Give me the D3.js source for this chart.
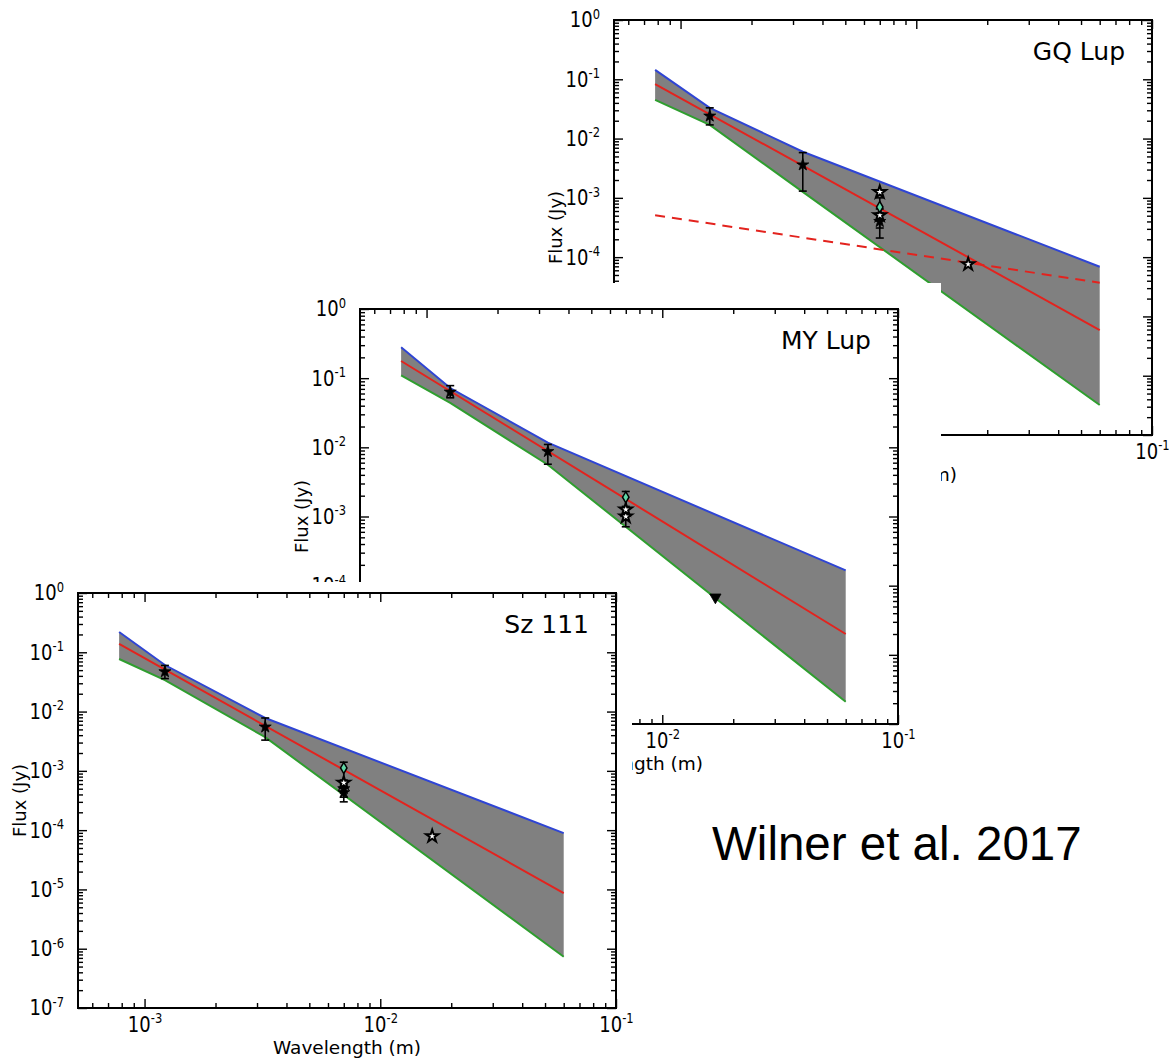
<!DOCTYPE html>
<html><head><meta charset="utf-8">
<script src="https://cdn.jsdelivr.net/npm/d3@7"></script>
<style>
body{margin:0;background:#fff;}
svg{display:block;font-family:"DejaVu Sans",sans-serif;}
</style>
</head><body>
<svg id="chart" width="1169" height="1060"></svg>
<script>
// ---------------- data ----------------
const lineWavelengths = [7.8e-4, 0.06];                   // straight model line ends (m)
const xTickExponents = [-3, -2, -1];
const xLabel = "Wavelength (m)";
const yLabel = "Flux (Jy)";
const creditText = "Wilner et al. 2017";

// GQ Lup
const gqTitle = "GQ Lup";
const gqWavelengths = [7.8e-4, 1.33e-3, 3.3e-3, 0.06];
const gqUpper = [0.144, 0.033, 0.006, 6.9e-5];
const gqLower = [0.045, 0.017, 1.26e-3, 3.2e-7];
const gqModel = [0.083, 5.9e-6];
const gqFreeFree = [5.1e-4, 3.7e-5];
const gqYExponents = [0, -1, -2, -3, -4, -5, -6, -7];
const gqPoints = [
  {w: 1.33e-3, f: 0.024, lo: 0.017, hi: 0.033, m: "star"},
  {w: 3.3e-3, f: 0.0036, lo: 0.0013, hi: 0.0058, m: "star"},
  {w: 7e-3, f: 4.0e-4, lo: 2.1e-4, hi: 5.5e-4, m: "star"},
  {w: 7e-3, f: 5.1e-4, lo: 3.1e-4, hi: 6.5e-4, m: "open"},
  {w: 7e-3, f: 7.0e-4, lo: 5.5e-4, hi: 1.0e-3, m: "diamond"},
  {w: 7e-3, f: 1.25e-3, lo: null, hi: null, m: "open"},
  {w: 0.0166, f: 7.6e-5, lo: null, hi: null, m: "open"}
];

// MY Lup
const myTitle = "MY Lup";
const myWavelengths = [7.8e-4, 1.26e-3, 3.27e-3, 0.06];
const myUpper = [0.28, 0.072, 0.0117, 1.66e-4];
const myLower = [0.11, 0.044, 0.0056, 2.1e-6];
const myModel = [0.177, 2.0e-5];
const myYExponents = [0, -1, -2, -3, -4, -5, -6];
const myPoints = [
  {w: 1.26e-3, f: 0.063, lo: 0.052, hi: 0.078, m: "star"},
  {w: 3.27e-3, f: 0.0087, lo: 0.0057, hi: 0.011, m: "star"},
  {w: 7e-3, f: 1.0e-3, lo: 7.1e-4, hi: 1.3e-3, m: "open"},
  {w: 7e-3, f: 1.26e-3, lo: null, hi: null, m: "open"},
  {w: 7e-3, f: 1.9e-3, lo: 1.4e-3, hi: 2.3e-3, m: "diamond"},
  {w: 0.0168, f: 6.8e-5, lo: null, hi: null, m: "limit"}
];

// Sz 111
const szTitle = "Sz 111";
const szWavelengths = [7.8e-4, 1.22e-3, 3.25e-3, 0.06];
const szUpper = [0.22, 0.061, 0.0078, 8.9e-5];
const szLower = [0.077, 0.034, 0.0037, 7.3e-7];
const szModel = [0.138, 8.7e-6];
const szYExponents = [0, -1, -2, -3, -4, -5, -6, -7];
const szPoints = [
  {w: 1.22e-3, f: 0.047, lo: 0.036, hi: 0.06, m: "star"},
  {w: 3.25e-3, f: 0.0055, lo: 0.0033, hi: 0.0078, m: "star"},
  {w: 7e-3, f: 4.3e-4, lo: 3.0e-4, hi: 6.0e-4, m: "star"},
  {w: 7e-3, f: 5.0e-4, lo: 3.6e-4, hi: 6.5e-4, m: "star"},
  {w: 7e-3, f: 6.3e-4, lo: null, hi: null, m: "open"},
  {w: 7e-3, f: 1.12e-3, lo: 7.0e-4, hi: 1.4e-3, m: "diamond"},
  {w: 0.0166, f: 7.9e-5, lo: null, hi: null, m: "open"}
];

// ---------------- drawing ----------------
const svg = d3.select("#chart");
const W = 538, H = 415;
const xDomain = [5.22e-4, 0.1];
const C = {blue: "#2f45d4", green: "#2f9e2f", red: "#e3231e", gray: "#808080", mint: "#5fd6a6"};

function minorTicks(lo, hi) {
  const out = [];
  for (let e = Math.floor(Math.log10(lo)); e <= Math.ceil(Math.log10(hi)); e++) {
    for (let k = 2; k <= 9; k++) {
      const v = k * Math.pow(10, e);
      if (v > lo * 1.0001 && v < hi * 0.9999) out.push(v);
    }
  }
  return out;
}

function pow10Labels(sel) {
  sel.selectAll(".tick text").each(function(d) {
    const e = Math.round(Math.log10(d));
    const t = d3.select(this).attr("transform", "scale(1,1.2)");
    t.text(null);
    t.append("tspan").text("10");
    t.append("tspan").attr("dy", "-0.62em").attr("font-size", "0.64em").text(e === 0 ? "0" : "-" + Math.abs(e));
  });
}

function drawPanel(cfg) {
  const g = svg.append("g").attr("transform", `translate(${cfg.left},${cfg.top})`);
  const x = d3.scaleLog().domain(xDomain).range([0, W]);
  const y = d3.scaleLog().domain([cfg.yMin, 1]).range([H, 0]);

  const nodes = cfg.wavelengths.map((w, i) => ({w, up: cfg.upper[i], lo: cfg.lower[i]}));
  g.append("path").datum(nodes)
    .attr("d", d3.area().x(d => x(d.w)).y0(d => y(d.lo)).y1(d => y(d.up)))
    .attr("fill", C.gray);
  g.append("path").datum(nodes)
    .attr("d", d3.line().x(d => x(d.w)).y(d => y(d.up)))
    .attr("fill", "none").attr("stroke", C.blue).attr("stroke-width", 2);
  g.append("path").datum(nodes)
    .attr("d", d3.line().x(d => x(d.w)).y(d => y(d.lo)))
    .attr("fill", "none").attr("stroke", C.green).attr("stroke-width", 2);
  const line = d3.line().x(d => x(d[0])).y(d => y(d[1]));
  g.append("path").datum(lineWavelengths.map((w, i) => [w, cfg.model[i]]))
    .attr("d", line).attr("fill", "none").attr("stroke", C.red).attr("stroke-width", 2);
  if (cfg.dashed) {
    g.append("path").datum(lineWavelengths.map((w, i) => [w, cfg.dashed[i]]))
      .attr("d", line).attr("fill", "none").attr("stroke", C.red).attr("stroke-width", 2)
      .attr("stroke-dasharray", "10,7");
  }

  // error bars
  const eb = cfg.points.filter(p => p.lo != null);
  const ebg = g.append("g").attr("stroke", "#000").attr("stroke-width", 1.6);
  ebg.selectAll("line.v").data(eb).join("line")
    .attr("x1", d => x(d.w)).attr("x2", d => x(d.w))
    .attr("y1", d => y(d.lo)).attr("y2", d => y(d.hi));
  ebg.selectAll("line.lo").data(eb).join("line")
    .attr("x1", d => x(d.w) - 4).attr("x2", d => x(d.w) + 4)
    .attr("y1", d => y(d.lo)).attr("y2", d => y(d.lo));
  ebg.selectAll("line.hi").data(eb).join("line")
    .attr("x1", d => x(d.w) - 4).attr("x2", d => x(d.w) + 4)
    .attr("y1", d => y(d.hi)).attr("y2", d => y(d.hi));

  // markers
  const sym = {
    star: d3.symbol(d3.symbolStar, 45)(),
    open: d3.symbol(d3.symbolStar, 48)(),
    diamond: d3.symbol(d3.symbolDiamond, 36)(),
    limit: d3.symbol(d3.symbolTriangle, 55)()
  };
  g.append("g").selectAll("path").data(cfg.points).join("path")
    .attr("transform", d => `translate(${x(d.w)},${y(d.f)})` + (d.m === "limit" ? " rotate(180)" : ""))
    .attr("d", d => sym[d.m])
    .attr("fill", d => d.m === "open" ? "#fff" : d.m === "diamond" ? C.mint : "#000")
    .attr("stroke", "#000")
    .attr("stroke-width", d => d.m === "open" ? 2 : d.m === "diamond" ? 1.5 : 0.8);

  // axes (ticks inward on all sides)
  const xMajor = xTickExponents.map(e => Math.pow(10, e));
  const yMajor = cfg.yExp.map(e => Math.pow(10, e));
  const xMinor = minorTicks(xDomain[0], xDomain[1]);
  const yMinor = minorTicks(cfg.yMin, 1);
  const axisStyle = s => s.attr("font-size", 18).attr("font-family", "DejaVu Sans, sans-serif")
    .call(a => a.select(".domain").remove()).call(a => a.selectAll("line").attr("stroke-width", 1.4));

  g.append("g").attr("transform", `translate(0,${H})`)
    .call(d3.axisBottom(x).tickValues(xMajor).tickSizeInner(-9).tickSizeOuter(0).tickPadding(7))
    .call(axisStyle).call(pow10Labels);
  g.append("g").attr("transform", `translate(0,${H})`)
    .call(d3.axisBottom(x).tickValues(xMinor).tickSizeInner(-5).tickSizeOuter(0).tickFormat(""))
    .call(axisStyle);
  g.append("g")
    .call(d3.axisTop(x).tickValues(xMajor).tickSizeInner(-9).tickSizeOuter(0).tickFormat(""))
    .call(axisStyle);
  g.append("g")
    .call(d3.axisTop(x).tickValues(xMinor).tickSizeInner(-5).tickSizeOuter(0).tickFormat(""))
    .call(axisStyle);
  g.append("g")
    .call(d3.axisLeft(y).tickValues(yMajor).tickSizeInner(-9).tickSizeOuter(0).tickPadding(14))
    .call(axisStyle).call(pow10Labels);
  g.append("g")
    .call(d3.axisLeft(y).tickValues(yMinor).tickSizeInner(-5).tickSizeOuter(0).tickFormat(""))
    .call(axisStyle);
  g.append("g").attr("transform", `translate(${W},0)`)
    .call(d3.axisRight(y).tickValues(yMajor).tickSizeInner(-9).tickSizeOuter(0).tickFormat(""))
    .call(axisStyle);
  g.append("g").attr("transform", `translate(${W},0)`)
    .call(d3.axisRight(y).tickValues(yMinor).tickSizeInner(-5).tickSizeOuter(0).tickFormat(""))
    .call(axisStyle);

  g.append("rect").attr("width", W).attr("height", H)
    .attr("fill", "none").attr("stroke", "#000").attr("stroke-width", 2);

  g.append("text").attr("x", W - 27).attr("y", 40).attr("text-anchor", "end")
    .attr("font-size", 25).text(cfg.title);
  g.append("text").attr("x", W / 2).attr("y", H + 46).attr("text-anchor", "middle")
    .attr("font-size", 18.5).text(xLabel);
  g.append("text").attr("transform", `translate(-52,${H / 2}) rotate(-90)`)
    .attr("text-anchor", "middle").attr("font-size", 18).text(yLabel);
}

drawPanel({left: 614, top: 20, yMin: 1e-7, yExp: gqYExponents, title: gqTitle, wavelengths: gqWavelengths,
  upper: gqUpper, lower: gqLower, model: gqModel, dashed: gqFreeFree, points: gqPoints});

svg.append("rect").attr("x", 260).attr("y", 283).attr("width", 681).attr("height", 492).attr("fill", "#fff");
drawPanel({left: 360, top: 309, yMin: 1e-6, yExp: myYExponents, title: myTitle, wavelengths: myWavelengths,
  upper: myUpper, lower: myLower, model: myModel, dashed: null, points: myPoints});

svg.append("rect").attr("x", 0).attr("y", 582).attr("width", 632).attr("height", 478).attr("fill", "#fff");
drawPanel({left: 78, top: 593, yMin: 1e-7, yExp: szYExponents, title: szTitle, wavelengths: szWavelengths,
  upper: szUpper, lower: szLower, model: szModel, dashed: null, points: szPoints});

svg.append("text").attr("x", 712).attr("y", 860).attr("font-family", "Liberation Sans, Arial, sans-serif")
  .attr("font-size", 47.5).attr("fill", "#000").text(creditText);
</script>
</body></html>
